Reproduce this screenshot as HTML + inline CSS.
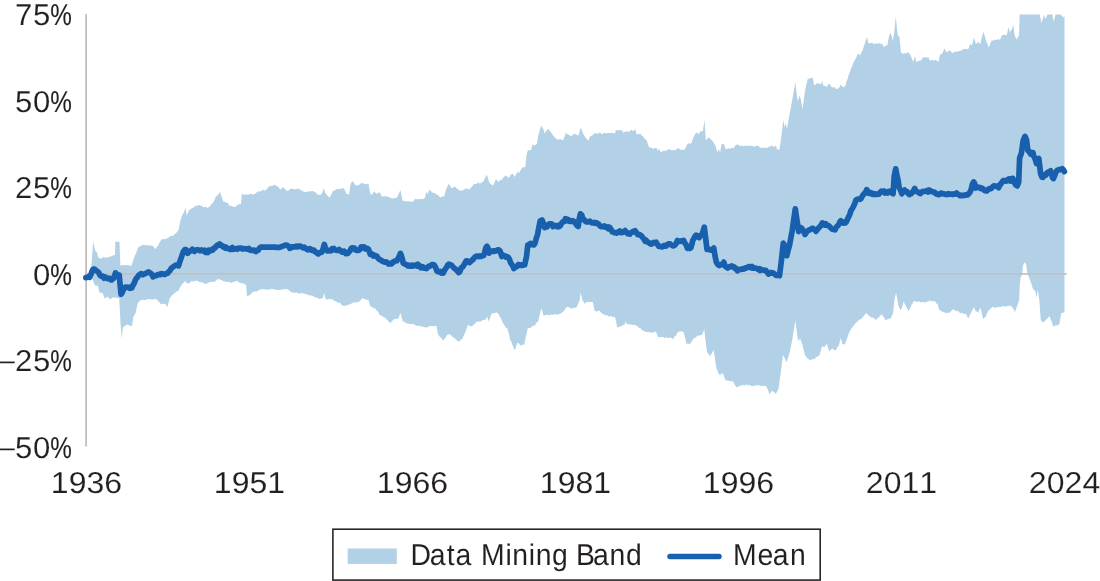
<!DOCTYPE html>
<html lang="en">
<head>
<meta charset="utf-8">
<title>Data Mining Band and Mean</title>
<style>
html,body{margin:0;padding:0;background:#fff;}
body{width:1100px;height:581px;overflow:hidden;position:relative;}
svg{display:block;position:absolute;left:0;top:0;}
text{font-family:"Liberation Sans",sans-serif;fill:#231f20;stroke:#fff;stroke-width:0.12px;paint-order:fill stroke;white-space:pre;text-rendering:geometricPrecision;}
tspan.pc{stroke:#231f20;stroke-width:0.15px;}
text.lg{stroke-width:0.05px;}
</style>
</head>
<body>
<svg width="1100" height="581" viewBox="0 0 1100 581">
<rect x="0" y="0" width="1100" height="581" fill="#ffffff"/>
<g id="plot">
<path id="band" d="M91.4,265.0 93.2,241.8 95.0,250.0 96.0,251.5 96.9,252.2 98.7,258.0 99.7,258.3 100.7,258.3 101.7,258.4 102.7,257.5 103.7,257.0 104.7,257.6 105.7,257.6 106.7,257.9 107.7,257.3 108.7,257.0 109.7,256.5 110.6,257.1 111.6,255.8 112.7,255.7 113.8,255.0 114.9,255.3 115.3,241.8 116.3,241.5 117.4,241.7 118.5,241.9 119.5,241.9 120.4,265.7 121.4,265.6 122.3,264.8 123.3,265.5 124.3,264.9 125.3,265.2 126.2,264.8 127.2,265.3 128.2,265.3 129.4,265.3 130.6,266.0 131.8,264.9 133.6,259.1 134.6,256.3 135.6,253.9 136.6,251.8 138.4,246.9 139.5,246.5 140.6,246.1 141.7,245.2 142.8,245.2 143.9,244.5 144.9,245.6 145.9,245.0 146.9,245.3 147.9,245.2 149.0,245.6 150.0,245.2 151.0,245.8 152.0,245.6 153.0,245.9 154.3,247.7 155.7,249.3 156.8,247.0 158.0,245.4 159.2,243.3 160.3,241.3 162.1,239.1 163.2,239.3 164.3,239.2 165.4,238.9 166.5,238.6 167.6,238.3 168.6,237.5 169.7,236.5 170.7,236.0 171.8,235.9 172.8,235.7 173.9,235.1 174.9,234.0 176.1,233.1 177.3,231.8 178.5,230.1 179.4,225.5 180.4,220.4 181.4,217.6 182.4,214.8 183.5,213.3 184.5,210.4 185.5,207.8 186.8,215.8 188.2,212.1 189.5,209.7 190.5,209.3 191.5,208.5 192.5,208.1 193.5,207.4 194.6,206.4 195.6,206.1 196.6,205.8 197.6,205.7 198.6,204.8 199.6,205.3 200.6,206.1 201.6,205.8 202.6,206.6 203.7,207.2 204.7,207.2 205.7,206.8 206.7,207.3 207.7,208.3 208.8,207.1 209.9,206.6 211.0,204.6 212.1,203.6 213.2,202.6 214.4,200.1 215.7,197.0 216.9,195.8 217.9,195.0 219.0,193.8 220.0,191.8 221.1,195.1 222.1,198.2 223.2,201.6 224.3,201.8 225.5,202.1 226.7,203.1 227.8,202.9 229.6,206.1 230.7,205.8 231.8,205.9 232.9,206.5 234.0,207.1 235.1,206.7 236.1,206.5 237.0,205.1 238.0,204.7 239.0,204.3 239.9,203.9 240.9,203.9 242.0,192.8 243.3,194.9 244.3,194.5 245.3,194.4 246.3,194.5 247.3,194.6 248.3,194.7 249.2,194.2 250.2,194.1 251.2,193.5 252.2,194.5 253.2,194.7 254.2,194.1 255.2,193.7 256.4,192.5 257.6,191.9 258.8,191.1 259.8,191.8 260.9,191.2 261.9,190.5 263.0,189.6 264.0,190.6 265.1,190.4 266.1,189.8 267.3,188.7 268.6,186.5 269.8,186.3 270.9,185.8 271.9,185.9 273.0,185.6 274.1,184.8 275.1,185.3 276.2,185.3 277.1,186.6 278.1,186.6 279.1,187.7 280.0,189.4 281.2,189.0 282.4,187.7 283.6,187.1 284.8,188.9 286.1,190.3 287.3,190.9 288.4,190.4 289.6,189.6 290.8,188.7 291.9,188.6 292.9,189.0 294.0,189.1 295.0,189.6 296.1,189.0 297.1,188.7 298.2,188.5 299.4,189.5 300.7,189.8 301.9,190.7 302.9,191.3 303.9,191.8 304.9,191.9 305.8,192.1 306.8,191.8 307.8,191.4 308.8,191.6 309.8,191.5 310.8,191.2 311.7,190.9 312.7,191.0 313.7,191.6 314.7,192.0 315.9,192.6 317.1,194.3 318.3,194.7 319.5,194.8 320.8,194.7 322.0,193.6 323.8,188.3 325.6,193.6 326.8,194.7 328.1,196.6 329.3,197.5 330.5,195.9 331.7,193.7 332.9,190.7 334.0,191.1 335.1,190.0 336.2,189.3 337.3,188.9 338.4,188.9 339.5,189.0 340.6,189.2 341.7,188.2 342.8,188.3 343.9,188.2 345.2,191.1 346.6,193.9 347.8,193.9 349.0,194.7 350.3,184.7 352.1,180.9 353.5,182.2 354.8,184.5 356.6,185.4 357.7,185.6 358.8,185.1 359.9,184.1 361.0,183.5 362.1,182.8 363.3,183.6 364.6,184.0 365.8,184.6 367.1,183.7 368.5,183.7 370.3,194.1 371.2,194.3 372.2,194.7 374.0,191.6 375.4,192.7 376.7,193.9 377.6,193.1 378.6,192.8 379.5,192.3 380.9,194.4 382.2,196.9 383.4,196.4 384.6,196.1 385.8,196.7 386.9,196.0 388.0,196.8 389.1,197.3 390.2,197.6 391.3,198.4 392.4,198.6 393.5,198.3 394.6,198.0 395.7,197.7 396.8,197.8 398.0,195.5 399.2,192.6 400.4,189.9 401.5,195.1 402.6,200.9 403.6,200.4 404.6,201.3 405.7,201.3 406.7,201.1 407.7,201.4 408.8,201.0 409.9,201.7 411.0,202.0 412.1,201.3 413.2,201.7 415.0,198.7 416.0,199.1 417.1,199.6 418.1,198.8 419.1,199.4 420.1,199.1 421.1,199.0 422.2,199.0 423.2,199.2 424.1,198.0 425.1,198.2 426.0,191.8 427.8,193.9 429.6,189.1 430.5,190.9 431.5,191.6 432.4,192.6 433.6,193.1 434.8,193.1 436.0,194.2 437.1,194.8 438.3,195.3 439.5,196.8 440.6,197.5 441.8,196.5 443.0,196.4 444.2,196.5 445.1,192.7 446.1,189.2 447.5,186.3 448.8,183.8 450.1,185.8 451.5,188.1 452.4,188.2 453.4,187.4 454.3,186.6 455.4,186.9 456.6,188.0 457.7,189.4 458.8,189.8 460.0,190.8 461.3,190.4 462.5,190.6 463.7,189.7 464.9,189.1 466.1,188.5 467.3,188.5 468.6,189.5 469.8,189.0 471.0,187.5 472.2,186.4 473.4,184.5 474.5,184.1 475.7,183.9 476.9,183.7 478.0,182.1 479.0,183.2 480.0,183.4 481.2,183.0 482.4,181.9 483.6,181.1 484.7,179.0 485.7,176.4 486.8,174.7 488.0,178.2 489.1,182.1 490.3,183.7 491.6,184.6 492.8,185.5 493.9,184.1 495.0,181.3 496.1,179.3 497.1,180.6 498.2,182.0 499.4,180.7 500.7,180.0 501.9,179.8 503.1,177.7 504.3,176.4 505.5,175.4 506.7,176.2 508.0,177.2 509.2,177.8 510.3,175.5 511.4,174.2 512.5,173.4 513.6,175.0 514.7,176.9 516.0,174.5 517.4,172.1 519.2,173.0 520.1,171.1 521.1,169.4 522.0,167.6 523.1,167.4 524.2,167.1 525.3,167.3 526.5,154.9 527.8,150.5 528.9,150.3 530.0,150.2 531.1,149.8 532.6,144.2 533.7,145.3 534.7,145.4 535.8,144.8 536.9,143.7 538.4,134.8 539.8,129.9 541.1,125.5 542.3,127.4 543.5,129.5 544.8,133.6 546.0,131.2 547.2,129.4 548.2,129.1 549.3,130.2 550.5,131.5 551.8,133.6 553.0,135.2 554.2,137.0 555.4,137.9 556.6,139.0 557.8,139.7 559.1,139.2 560.3,139.0 561.6,139.8 563.0,140.4 563.9,138.0 564.9,135.9 565.8,132.5 567.1,134.0 568.5,134.8 569.9,135.4 571.2,136.5 572.4,135.3 573.7,134.1 574.9,134.0 576.1,134.5 577.3,135.1 578.5,135.4 579.6,130.9 580.7,127.8 581.9,130.4 583.1,133.5 584.5,135.9 585.8,138.0 586.7,139.0 587.7,139.8 588.6,140.6 590.0,136.5 591.1,136.1 592.2,135.4 593.1,134.7 594.1,133.8 595.0,133.2 596.0,133.2 596.9,133.5 597.9,133.9 598.8,132.4 599.8,133.1 600.7,133.1 601.7,134.1 602.6,133.9 603.6,132.8 604.5,133.2 605.5,133.0 606.4,133.5 607.4,132.9 608.3,133.1 609.3,133.1 610.2,133.1 611.2,132.9 612.1,132.4 613.1,133.1 614.0,133.6 615.0,133.2 615.9,129.9 617.0,130.3 618.0,130.4 619.1,130.1 620.2,130.1 621.2,130.7 622.3,129.9 623.2,133.1 624.2,132.0 625.1,131.8 626.2,131.4 627.4,131.3 628.5,131.4 629.6,132.3 630.5,130.1 631.6,129.9 632.8,130.9 634.0,130.4 635.1,129.8 635.5,128.4 636.2,133.6 637.3,134.7 638.4,133.8 639.5,133.9 640.6,134.0 641.8,135.6 643.0,136.5 644.2,138.3 645.1,138.9 646.1,139.8 647.0,141.3 648.1,144.7 649.3,147.8 650.3,147.6 651.2,147.4 652.2,147.9 653.1,149.0 654.1,148.3 655.1,148.0 656.0,148.0 657.0,148.2 657.9,150.9 659.2,148.4 660.7,152.3 661.9,151.6 663.1,151.1 664.3,150.8 665.4,150.8 666.5,150.5 667.6,149.7 668.7,149.3 669.8,149.6 670.9,149.9 672.0,150.2 673.1,150.2 674.2,150.0 675.3,150.3 676.6,149.0 678.0,148.2 679.0,148.3 680.0,149.6 681.1,150.0 682.3,149.6 683.5,150.1 684.6,149.4 686.0,147.1 687.3,144.2 688.5,143.6 689.7,143.3 690.9,144.0 691.8,141.3 692.8,139.2 693.7,136.8 694.9,134.7 696.1,132.3 697.2,133.0 698.2,133.9 699.1,133.4 700.1,132.1 701.0,130.9 702.8,131.5 704.5,120.1 705.9,140.4 707.0,139.1 708.1,138.0 709.2,137.5 710.4,139.2 711.6,140.1 712.8,141.2 713.7,142.8 714.7,144.4 715.6,146.0 717.4,152.5 718.7,149.1 720.1,152.5 721.6,143.9 722.9,143.8 724.2,144.4 725.3,148.5 726.2,149.2 727.2,149.1 728.1,148.3 729.1,148.6 730.0,148.8 731.0,148.6 731.9,147.6 732.9,148.1 733.8,148.5 734.8,146.1 735.7,145.3 737.0,144.6 738.4,144.8 739.3,146.0 740.3,145.7 741.3,145.6 742.2,146.0 743.2,146.2 744.2,145.9 745.2,146.0 746.1,145.5 747.1,146.1 748.1,145.8 749.1,146.1 750.1,145.7 751.0,145.8 752.0,146.1 753.0,145.9 754.1,146.9 755.2,146.3 756.3,146.0 757.4,145.6 758.5,146.1 759.9,147.4 761.2,148.1 762.3,147.6 763.3,147.7 764.4,148.1 765.5,147.8 766.5,147.5 767.6,147.8 768.8,146.8 770.0,146.4 771.2,145.7 772.4,145.7 773.5,146.7 774.6,146.7 775.8,145.6 777.1,149.5 778.3,149.7 779.5,149.4 781.3,136.8 782.3,128.4 783.3,120.1 784.7,127.4 785.8,123.0 786.9,128.7 788.2,121.9 789.5,114.4 790.9,107.3 792.2,99.9 793.2,94.3 794.3,88.2 795.3,82.1 796.5,92.0 797.7,101.6 799.5,95.7 800.8,99.2 802.6,109.4 803.8,99.6 805.0,91.0 806.4,84.6 807.7,79.1 808.7,78.7 809.6,78.3 810.7,78.0 811.7,77.7 812.8,78.1 814.1,85.4 815.0,85.1 816.0,84.3 816.9,83.2 818.0,83.3 819.1,83.6 820.3,84.2 821.4,83.6 822.3,80.5 823.2,85.5 824.4,85.8 825.7,86.3 826.9,86.9 828.1,84.8 829.3,83.4 830.4,84.9 831.5,87.1 832.9,87.5 834.2,87.1 835.5,88.4 836.9,89.2 837.8,88.3 838.8,88.3 839.8,86.5 840.9,84.4 842.1,86.5 843.3,87.3 844.5,86.5 845.7,84.9 846.7,81.1 847.8,78.6 848.8,74.2 850.0,72.0 851.2,68.3 852.4,65.4 853.3,62.9 854.3,61.0 855.2,59.4 856.5,57.0 857.9,53.2 859.7,55.2 860.6,54.2 861.6,51.9 862.5,50.4 864.3,44.9 865.6,41.2 867.0,37.0 868.3,43.2 869.3,43.3 870.2,42.7 871.2,43.3 872.2,42.8 873.2,43.4 874.1,43.9 875.1,43.8 876.1,43.3 877.1,43.8 878.0,43.6 879.0,43.0 880.0,43.4 881.1,44.1 882.2,43.7 883.6,47.1 884.8,46.6 886.1,45.4 887.3,45.5 889.1,35.7 890.6,32.5 891.7,36.5 892.8,40.7 894.2,33.0 895.7,16.5 897.3,31.2 898.2,36.8 899.3,35.5 901.0,52.8 902.1,53.1 903.2,54.0 904.4,53.1 905.5,53.8 906.4,52.8 907.4,52.7 908.3,52.3 910.1,54.6 911.1,56.7 912.2,59.4 913.2,61.9 915.0,56.3 916.5,62.2 917.6,61.3 918.8,61.3 920.0,60.2 921.1,60.4 922.9,57.2 924.0,57.8 925.1,56.9 926.2,57.8 927.3,57.5 928.4,57.2 929.6,60.2 930.6,60.4 931.6,60.0 932.6,60.1 933.6,60.4 934.6,60.4 935.6,59.7 936.6,60.5 938.4,62.1 939.9,54.8 941.0,54.3 942.0,53.7 943.1,51.7 944.2,48.0 945.4,50.3 946.6,52.2 948.0,51.6 949.3,50.2 950.5,51.0 951.8,52.4 953.0,53.0 954.1,51.9 955.2,51.5 956.3,51.8 957.4,51.5 958.5,51.2 959.6,50.9 960.7,50.4 961.7,50.5 962.8,49.3 963.9,48.8 965.0,48.9 966.2,49.0 967.4,49.0 968.5,48.7 970.3,43.7 971.2,44.9 972.2,44.8 974.0,37.2 975.8,43.8 977.0,43.6 978.2,41.8 979.3,43.3 980.4,44.2 981.8,37.3 983.5,31.8 984.6,35.6 985.8,39.7 986.8,42.4 987.9,45.2 988.9,47.6 990.1,44.1 991.3,41.1 992.2,40.3 993.2,41.1 994.1,39.7 995.1,39.8 996.2,40.1 997.2,39.7 998.3,39.0 999.4,39.7 1000.4,39.1 1001.3,36.7 1002.3,35.1 1003.4,35.0 1004.5,34.7 1005.7,35.0 1006.8,34.9 1008.5,27.2 1009.9,32.4 1010.8,30.6 1011.8,30.1 1013.2,24.8 1014.7,35.8 1015.8,37.7 1016.9,39.6 1018.0,37.0 1019.1,34.9 1019.6,14.6 1020.6,14.6 1021.5,14.6 1022.5,14.6 1023.4,14.6 1024.4,14.6 1025.3,14.6 1026.3,14.6 1027.3,14.6 1028.2,14.6 1029.2,14.6 1030.1,14.6 1031.1,14.6 1032.0,14.6 1033.0,14.6 1034.0,14.6 1034.9,14.6 1035.9,14.6 1036.8,14.6 1037.8,14.6 1038.7,14.6 1039.7,14.6 1041.5,23.0 1042.7,19.3 1043.9,14.6 1045.1,18.9 1046.3,17.2 1047.5,14.6 1048.5,14.6 1049.5,14.6 1050.4,14.6 1051.4,14.6 1052.4,14.6 1053.7,22.0 1055.5,14.6 1056.5,14.6 1057.6,14.6 1058.6,14.6 1059.7,14.6 1060.7,14.6 1062.3,16.3 1063.4,17.3 1064.5,16.4 L1064.5,312.2 1063.4,312.4 1062.3,312.9 1061.2,313.0 1059.4,324.0 1058.4,324.8 1057.3,325.4 1056.3,325.4 1055.3,325.5 1054.2,325.8 1053.2,327.2 1052.2,323.1 1051.2,320.4 1049.5,316.3 1048.5,317.1 1047.4,318.4 1046.4,319.2 1045.4,320.6 1044.3,321.5 1043.3,322.9 1042.0,321.0 1040.8,320.5 1039.4,300.9 1037.9,289.9 1036.5,297.4 1035.4,291.0 1034.2,290.2 1032.9,288.4 1031.7,285.0 1030.5,281.1 1029.5,278.9 1028.6,276.2 1027.2,273.7 1026.3,265.0 1024.7,261.9 1023.0,265.5 1022.2,274.5 1020.6,277.4 1019.7,285.2 1019.2,299.9 1017.8,303.9 1016.9,306.7 1015.9,309.3 1015.0,312.2 1013.8,309.6 1012.6,307.7 1011.4,306.2 1010.3,305.7 1009.3,305.7 1008.2,306.0 1007.1,306.1 1006.1,306.7 1005.0,306.6 1003.9,306.1 1002.9,306.3 1001.8,306.6 1000.7,306.9 999.7,306.7 998.6,307.3 997.5,306.8 996.5,307.7 995.4,307.5 994.3,307.7 993.3,307.1 992.2,307.1 991.0,308.6 989.8,309.2 988.6,310.5 987.7,312.0 986.7,314.1 985.8,316.5 984.5,317.6 983.1,319.3 981.8,313.1 980.4,307.5 979.5,309.4 978.5,312.7 977.1,311.4 975.8,311.5 974.0,307.5 973.1,308.4 972.1,310.5 971.2,312.4 969.9,315.1 968.5,318.3 967.1,316.6 965.8,313.5 964.6,314.0 963.5,314.0 962.4,312.8 961.2,313.2 960.1,313.1 958.9,311.9 957.8,310.8 956.6,311.2 955.4,310.4 954.2,309.9 953.0,309.3 951.8,310.2 950.5,311.7 949.3,312.9 948.2,312.6 947.2,313.0 946.1,313.2 945.1,312.7 944.0,312.1 943.0,312.1 941.8,311.3 940.5,310.5 939.3,310.3 937.5,303.7 936.6,303.8 935.6,302.0 934.7,301.0 933.7,301.3 932.7,301.5 931.6,301.0 930.6,300.8 929.6,300.4 928.6,301.3 927.6,301.5 926.6,301.7 925.6,302.6 924.5,302.4 923.4,301.7 922.3,302.3 921.2,302.4 920.1,301.8 919.0,301.5 918.0,301.8 917.0,301.4 915.9,301.7 914.8,301.0 913.8,301.1 912.9,303.3 911.9,303.9 911.0,306.6 909.6,309.1 908.3,311.3 906.5,306.7 905.6,305.4 904.6,303.7 903.7,301.3 902.4,306.2 901.0,310.3 900.1,308.9 899.1,307.7 898.2,305.2 897.2,298.7 896.1,293.0 894.6,298.3 893.1,312.8 892.0,315.5 890.9,318.4 889.5,318.6 888.2,319.2 886.9,319.4 885.5,320.3 884.3,318.0 883.0,316.2 881.8,314.1 880.0,315.9 879.0,317.2 878.1,317.8 877.2,318.8 876.2,319.8 875.1,319.5 874.1,318.3 873.0,317.8 871.9,317.6 870.9,317.4 869.8,316.3 868.7,315.7 867.6,314.2 866.5,313.1 865.5,313.9 864.5,314.8 863.5,316.5 862.5,317.4 861.4,318.9 860.3,319.3 859.2,320.0 858.1,320.5 857.0,322.1 855.9,322.8 854.8,324.0 853.7,325.7 852.6,326.9 851.5,328.1 850.3,330.4 849.1,332.6 847.9,335.9 847.0,338.9 846.0,341.0 845.1,343.7 843.8,344.6 842.4,343.9 840.9,338.0 839.8,341.8 838.8,345.5 837.6,347.0 836.3,349.2 835.1,350.4 833.8,349.7 832.4,348.3 831.4,349.3 830.3,350.3 829.3,351.3 828.1,348.0 826.9,343.4 825.5,345.8 824.2,347.1 823.1,346.8 822.0,346.4 820.8,350.9 819.6,354.8 818.5,356.2 817.3,356.8 816.1,357.1 815.0,358.9 813.9,358.5 812.8,359.6 811.8,359.2 810.7,359.8 809.6,360.5 808.5,358.7 807.3,358.2 806.1,356.8 805.0,355.2 803.8,350.6 802.6,345.5 801.4,342.0 800.1,338.2 799.2,339.9 798.2,341.1 797.2,334.4 796.3,327.6 795.3,320.4 794.3,327.1 793.2,333.4 792.2,340.1 790.9,346.4 789.5,353.0 788.1,357.6 786.8,362.2 785.8,360.2 784.9,358.5 783.1,354.9 781.9,363.6 780.7,373.1 779.6,380.8 778.5,389.1 777.1,391.4 775.8,394.1 774.6,392.8 773.4,391.7 772.2,390.4 771.3,391.8 770.3,393.3 769.4,393.9 768.0,390.1 766.7,387.0 765.6,386.1 764.6,386.1 763.5,385.6 762.4,386.2 761.4,385.8 760.3,385.7 759.3,385.2 758.2,385.8 757.2,384.9 756.1,385.2 755.1,385.6 754.0,386.2 753.0,385.5 752.0,386.2 751.0,385.7 750.0,385.1 749.0,385.3 748.0,385.3 747.0,384.4 746.0,384.6 745.0,385.2 744.0,385.5 743.0,385.1 742.0,385.2 740.9,385.3 739.8,386.0 738.8,386.4 737.7,386.7 736.6,387.4 735.4,385.8 734.1,383.6 732.9,381.3 731.9,381.3 730.8,381.3 729.8,381.0 728.7,380.8 727.7,380.4 726.6,380.5 725.6,380.2 724.2,376.9 722.9,372.9 721.7,373.7 720.4,374.7 719.2,374.7 717.9,371.8 716.5,368.6 715.1,359.8 713.8,350.0 712.6,352.1 711.3,354.1 710.1,356.2 709.1,354.5 708.0,353.4 707.0,352.0 705.6,340.9 704.3,329.3 703.1,332.2 701.9,335.0 700.8,334.9 699.6,335.3 698.4,336.0 697.3,335.6 696.2,337.3 695.0,337.7 693.9,338.2 692.8,339.6 691.9,340.9 690.9,342.7 690.0,344.0 688.8,343.8 687.6,343.5 686.4,343.8 685.5,339.4 684.5,335.4 683.6,331.9 682.4,331.4 681.2,331.3 680.0,331.8 679.0,331.6 678.1,332.2 677.1,333.3 675.9,335.7 674.6,336.6 673.4,339.2 671.6,338.0 670.6,337.8 669.6,337.6 668.7,338.2 667.7,337.7 666.7,337.3 665.7,337.4 664.8,338.2 663.8,337.3 662.8,336.8 661.8,337.2 660.8,337.1 659.9,336.9 658.9,337.3 657.9,336.8 656.1,332.0 655.0,331.5 653.9,332.4 652.8,332.7 651.7,332.4 650.6,332.2 649.5,332.7 648.4,331.8 647.3,332.3 646.2,331.4 645.1,332.0 644.0,330.7 642.9,330.4 641.7,329.9 640.6,328.3 639.5,328.2 638.4,327.3 637.3,326.0 636.2,325.8 635.1,324.8 634.1,325.0 633.0,324.7 632.0,324.7 631.0,324.4 630.0,324.6 629.0,324.5 627.9,323.9 626.9,324.3 625.6,321.1 625.1,324.3 623.9,324.4 622.6,325.3 621.4,326.6 620.4,326.1 619.3,326.9 618.2,326.9 617.2,327.6 616.1,321.4 615.0,316.9 614.0,316.7 612.9,317.5 611.9,316.2 610.8,316.3 609.8,316.5 608.7,316.4 607.7,315.5 606.6,315.5 605.5,315.0 604.5,314.9 603.4,314.0 602.3,313.7 601.4,313.0 600.4,311.8 599.5,310.8 598.5,310.7 597.5,311.0 596.6,311.7 595.6,311.1 594.6,310.9 592.8,302.0 591.8,301.9 590.8,302.1 589.7,302.3 588.7,301.9 587.7,301.8 586.6,302.1 585.5,302.6 584.4,304.0 583.3,301.3 582.2,299.8 580.7,292.5 579.5,300.8 578.6,302.8 577.6,305.3 576.7,306.9 575.6,308.0 574.5,307.6 573.4,307.9 572.3,308.4 571.2,308.2 570.1,308.3 569.0,307.0 567.8,306.9 566.7,307.1 565.6,308.7 564.4,310.0 563.2,311.6 562.1,312.6 561.1,313.6 560.1,313.4 559.1,313.9 558.1,314.6 557.0,314.4 556.0,314.4 555.0,313.9 554.0,314.8 553.0,314.5 552.0,314.7 551.1,314.3 550.1,315.3 549.2,315.3 548.2,314.8 547.3,315.1 546.4,314.8 545.4,315.3 544.5,315.3 543.5,315.7 542.5,311.8 541.5,308.2 540.5,311.6 539.4,315.8 538.4,320.4 537.2,322.2 535.9,323.3 534.7,326.3 533.7,325.6 532.7,325.8 531.7,327.1 530.8,327.4 529.8,328.0 528.8,328.0 527.8,327.9 526.0,335.9 524.2,344.7 523.0,344.7 521.7,344.8 520.5,345.7 518.7,343.0 517.6,343.0 516.5,344.9 515.0,350.2 513.9,348.2 512.8,345.9 511.4,342.1 510.1,339.7 508.8,333.5 507.4,328.5 506.2,327.7 504.9,325.9 503.7,324.3 502.5,322.3 501.3,319.2 500.1,317.0 499.2,315.6 498.2,313.6 497.3,312.9 496.2,312.3 495.2,313.0 494.1,313.2 493.0,313.2 492.0,313.5 490.9,314.8 489.9,318.5 488.8,321.7 487.3,316.6 485.5,319.5 484.4,319.9 483.3,319.8 482.2,320.5 481.1,321.3 480.0,321.7 479.0,321.8 478.1,321.0 477.1,322.0 476.0,322.0 475.0,323.9 473.9,324.2 472.8,325.8 471.8,326.3 470.7,326.3 469.4,325.7 468.0,324.7 467.1,327.2 466.1,330.0 464.9,333.3 463.7,335.7 462.5,338.5 461.3,339.4 460.0,340.6 458.8,341.9 457.8,340.9 456.7,339.9 455.7,339.2 454.6,338.2 453.6,337.5 452.5,336.9 451.5,335.8 450.3,334.5 449.1,334.3 447.9,334.5 446.8,335.4 445.6,337.7 444.4,339.0 443.3,340.6 442.2,339.7 441.1,337.5 440.0,336.9 438.9,335.5 437.8,334.0 436.6,325.9 435.5,326.2 434.4,325.4 433.3,326.6 432.3,326.0 431.2,326.1 430.2,325.8 429.1,326.5 428.1,327.0 427.0,327.5 426.0,327.2 425.0,327.4 423.9,327.0 422.9,326.7 421.8,326.2 420.8,326.4 419.7,326.1 418.7,325.4 417.7,325.9 416.7,325.5 415.7,325.8 414.7,324.2 413.6,324.5 412.6,324.0 411.6,323.8 410.6,324.1 409.6,324.2 408.6,323.5 407.6,323.7 406.6,323.2 405.6,322.6 404.6,322.3 403.6,321.4 402.6,321.0 401.5,316.7 400.4,312.7 398.6,318.4 397.5,318.6 396.4,319.1 395.2,319.0 394.1,319.0 392.9,320.3 391.6,321.7 390.4,323.2 389.2,322.0 388.1,321.0 386.9,319.5 385.8,318.3 384.8,317.5 383.7,317.4 382.6,316.5 381.6,315.7 380.6,315.0 379.5,315.0 378.4,312.3 377.2,310.8 376.0,309.7 374.9,308.2 373.8,307.9 372.6,307.8 371.4,306.5 370.3,306.6 368.5,300.1 367.4,299.7 366.4,300.0 365.3,299.0 364.2,299.0 363.2,298.5 362.1,298.1 360.9,299.9 359.7,301.2 358.5,301.9 357.4,302.2 356.3,302.2 355.2,302.4 354.1,302.4 353.0,302.6 351.9,303.3 350.7,304.1 349.5,304.7 348.4,304.3 347.3,305.2 346.1,305.6 345.0,306.0 343.9,305.5 342.8,305.9 341.7,305.1 340.6,303.4 339.5,302.6 338.4,302.9 337.4,302.6 336.3,301.4 335.3,301.0 334.2,300.9 333.2,299.7 332.1,299.2 331.1,299.3 330.0,298.8 328.9,299.0 327.8,299.4 326.7,299.2 325.6,299.3 324.2,292.7 322.9,298.2 321.7,298.1 320.4,298.9 319.2,299.1 318.1,298.0 317.1,298.0 316.0,297.0 314.9,297.5 313.9,296.8 312.8,295.6 311.8,295.9 310.8,295.1 309.8,295.4 308.8,295.5 307.8,294.8 306.9,294.0 305.9,294.4 304.9,293.8 303.9,293.5 302.9,293.6 301.9,292.6 300.9,293.4 299.9,293.5 298.9,293.4 297.9,293.1 296.9,292.8 295.9,292.4 294.9,292.7 293.9,292.9 292.9,292.2 291.9,292.6 290.9,291.8 289.7,291.1 288.5,289.7 287.3,289.3 286.3,289.0 285.2,288.9 284.2,289.4 283.1,289.3 282.1,289.5 281.0,289.4 280.0,290.1 279.0,289.7 278.0,289.9 276.9,289.9 275.9,289.8 274.9,289.4 273.9,289.3 272.9,288.9 271.8,289.4 270.8,288.6 269.8,289.4 268.8,289.3 267.8,290.2 266.8,289.1 265.8,289.7 264.8,289.2 263.8,289.2 262.8,289.1 261.8,289.1 260.8,289.8 259.8,289.6 258.8,290.0 257.7,291.0 256.6,291.6 255.6,291.8 254.5,291.1 253.4,291.9 252.5,292.2 251.5,293.2 250.6,294.6 249.4,294.9 248.2,295.9 247.0,296.5 246.1,284.6 244.9,284.6 243.6,283.8 242.4,283.1 241.3,282.9 240.2,282.9 239.1,282.4 238.0,281.8 236.9,280.7 235.8,281.3 234.7,281.7 233.7,282.0 232.6,282.0 231.5,283.1 230.4,282.5 229.3,282.1 228.2,281.8 227.1,282.0 226.0,282.0 224.9,281.3 223.9,281.3 222.8,280.9 221.7,279.9 220.7,279.8 219.6,279.4 218.5,279.1 217.5,279.2 216.4,280.1 215.3,281.2 214.3,281.7 213.2,281.8 212.2,281.8 211.1,282.0 210.1,281.9 209.0,282.6 208.0,282.9 206.9,283.6 205.9,283.4 204.9,284.0 203.8,283.6 202.8,282.3 201.7,282.3 200.7,282.5 199.6,282.0 198.6,281.4 197.6,280.9 196.5,280.5 195.5,281.1 194.4,281.0 193.4,281.4 192.3,281.4 191.3,280.8 190.1,282.8 188.9,283.0 187.7,283.7 186.8,283.1 185.8,282.1 184.9,281.0 183.7,282.7 182.5,283.5 181.3,285.6 180.4,286.8 179.4,288.4 178.5,290.6 177.4,291.7 176.3,291.3 175.3,292.4 174.2,293.4 173.1,294.2 171.9,295.5 170.6,296.9 169.4,298.9 167.6,306.9 165.8,304.4 164.7,303.8 163.5,304.1 162.3,303.8 161.2,304.6 160.0,303.3 158.9,301.4 157.8,300.7 156.6,299.4 155.6,299.1 154.5,298.9 153.5,299.5 152.4,299.6 151.4,299.3 150.3,299.4 149.3,299.2 148.3,298.9 147.3,298.9 146.3,299.8 145.3,300.1 144.2,299.9 143.2,300.0 142.2,299.8 141.2,300.2 140.2,300.4 138.8,302.0 137.5,303.7 135.7,312.9 134.5,314.8 133.3,317.3 132.0,326.7 130.8,325.5 129.7,325.7 128.6,324.9 127.4,324.7 126.3,324.8 125.2,325.8 124.0,326.8 122.9,327.6 121.6,338.7 120.5,322.8 119.2,298.2 118.1,297.7 117.0,298.0 115.8,297.6 114.7,297.4 113.5,297.6 112.4,297.6 111.2,298.5 110.1,299.2 108.8,298.1 107.4,296.6 106.5,297.6 105.5,297.8 104.6,298.6 102.9,293.4 101.7,292.9 100.5,292.6 99.3,292.5 98.0,285.8 97.0,285.7 96.0,285.7 95.0,285.2 93.2,281.0 91.4,277.0Z" fill="#b2d1e6" stroke="none"/>
<line x1="85.3" y1="273.85" x2="1066.7" y2="273.85" stroke="#c0c0c0" stroke-width="1.6"/>
<line x1="86.1" y1="14" x2="86.1" y2="446.6" stroke="#bcbcbc" stroke-width="1.7"/>
<path id="mean" d="M85.8,277.6 86.8,277.5 87.7,277.3 88.6,276.6 89.6,277.2 90.8,274.8 92.0,271.3 93.2,269.0 94.3,269.1 95.4,269.9 96.4,270.8 97.5,271.4 98.7,272.5 99.9,275.1 101.0,276.1 102.0,276.4 103.0,276.2 104.1,278.3 105.1,277.0 106.0,277.8 107.0,277.8 107.9,278.7 108.9,278.6 109.9,278.3 110.9,279.8 111.9,279.8 112.8,278.5 113.8,278.2 115.5,272.9 116.7,274.4 118.0,274.8 119.2,275.1 121.0,294.3 121.9,293.2 122.9,290.8 123.8,288.6 125.2,287.1 126.1,287.3 127.1,287.3 128.0,287.2 129.0,287.7 129.9,288.3 130.9,287.1 131.8,287.9 133.1,284.9 134.4,282.9 135.3,280.2 136.3,278.4 137.2,277.6 138.2,276.0 139.1,274.8 140.1,274.4 141.0,273.6 142.0,274.1 142.9,274.8 143.9,274.0 145.0,273.8 146.2,273.0 147.3,272.5 148.4,271.9 149.6,272.7 150.7,273.4 151.8,274.1 153.0,276.9 154.0,275.8 155.1,275.9 156.1,275.6 157.2,274.8 158.2,274.9 159.3,274.2 160.3,274.7 161.3,273.7 162.4,273.8 163.4,274.0 164.5,274.6 165.5,274.0 166.6,273.3 167.6,273.2 168.8,271.6 170.0,270.6 171.2,268.4 172.4,267.4 173.7,266.5 174.9,265.7 176.1,265.0 177.3,265.3 178.5,265.9 179.7,262.1 181.0,258.3 182.2,254.9 183.6,251.1 184.9,249.7 185.8,249.6 186.8,250.9 187.7,253.2 188.9,251.9 190.1,251.0 191.3,250.5 192.3,249.3 193.4,250.3 194.4,251.4 195.5,250.3 196.5,250.0 197.6,249.7 198.6,250.0 199.6,250.7 200.6,250.6 201.6,250.0 202.6,250.7 203.7,251.0 204.7,250.3 205.7,252.4 206.7,251.8 207.7,252.5 208.7,250.3 209.8,251.0 210.8,249.9 211.9,250.4 212.9,249.9 214.0,247.8 215.0,247.8 216.2,246.4 217.3,245.1 218.4,245.4 219.6,244.0 220.8,245.0 221.9,245.4 223.0,246.9 224.2,246.6 225.2,248.0 226.2,247.2 227.2,248.4 228.2,248.6 229.3,248.8 230.3,249.5 231.3,248.4 232.3,247.6 233.3,249.4 234.3,249.0 235.4,248.7 236.4,248.8 237.4,249.3 238.4,248.1 239.4,248.5 240.5,248.3 241.5,248.1 242.6,249.0 243.6,248.5 244.7,248.7 245.8,248.9 246.8,248.7 247.9,249.3 248.9,248.5 249.9,250.1 250.9,250.3 251.9,250.5 253.0,250.0 254.0,250.0 255.0,251.0 256.0,251.6 257.0,250.4 258.2,250.2 259.5,248.1 260.7,247.1 261.7,247.1 262.6,247.1 263.6,247.1 264.6,247.1 265.5,247.2 266.5,247.2 267.5,247.2 268.4,247.2 269.4,247.2 270.4,247.2 271.3,247.2 272.3,247.2 273.2,247.2 274.2,247.2 275.2,247.2 276.1,247.3 277.1,247.3 278.1,247.3 279.0,247.3 280.0,247.3 281.1,246.6 282.1,246.5 283.2,246.0 284.3,245.4 285.3,245.4 286.4,245.0 287.5,245.6 288.6,246.2 289.8,248.3 290.9,247.2 291.9,247.6 293.0,246.7 294.0,246.9 295.1,247.0 296.1,246.2 297.2,246.9 298.2,246.1 299.2,246.3 300.3,246.1 301.3,246.8 302.4,247.2 303.4,247.9 304.5,247.2 305.5,248.4 306.5,249.0 307.6,249.9 308.6,249.2 309.7,248.6 310.7,249.1 311.8,250.4 312.8,250.3 313.9,250.2 315.0,251.7 316.1,252.1 317.2,253.3 318.3,253.9 319.4,252.8 320.5,252.5 321.6,252.2 323.0,249.2 324.3,244.4 325.2,247.2 326.2,249.3 327.1,250.9 328.1,250.8 329.0,250.5 330.0,250.4 331.0,250.8 331.9,248.8 332.9,249.5 333.9,248.5 335.0,249.9 336.0,250.2 337.1,250.4 338.1,250.4 339.2,249.5 340.2,251.0 341.2,250.8 342.1,252.0 343.1,251.4 344.0,251.2 345.0,252.7 346.0,253.7 346.9,253.6 347.9,253.3 348.9,251.9 350.0,250.9 351.1,248.6 352.1,247.8 353.2,248.2 354.4,248.1 355.5,249.9 356.6,250.4 357.7,250.2 358.8,250.5 359.9,249.5 361.0,247.1 362.1,246.8 363.2,247.9 364.2,247.1 365.3,248.9 366.4,248.5 367.4,248.4 368.5,249.3 370.3,254.4 371.4,253.6 372.4,254.3 373.5,256.1 374.6,255.3 375.6,256.1 376.7,256.0 377.8,257.9 378.8,258.8 379.9,259.8 381.0,260.0 382.0,260.9 383.1,261.5 384.2,262.1 385.2,262.0 386.3,261.9 387.4,262.5 388.4,264.0 389.5,263.7 390.5,264.0 391.6,263.9 392.6,262.0 393.7,261.9 394.7,261.1 395.8,261.0 396.8,260.8 398.0,258.7 399.2,256.3 400.4,253.4 401.3,255.6 402.3,258.9 403.2,263.1 404.3,263.6 405.3,264.2 406.4,264.6 407.5,265.7 408.5,265.1 409.6,266.1 410.6,266.2 411.6,265.2 412.6,266.1 413.6,265.8 414.7,265.1 415.7,265.3 416.7,266.0 417.7,264.3 418.7,265.1 419.8,266.5 420.8,267.8 421.9,266.5 423.0,266.7 424.0,268.2 425.1,268.0 426.2,268.6 427.4,267.8 428.5,266.4 429.6,266.2 430.8,265.5 431.9,264.6 433.1,264.5 434.2,265.1 435.5,267.1 436.9,271.2 438.0,271.7 439.0,271.8 440.1,271.4 441.2,273.0 442.2,272.4 443.3,273.0 444.4,270.4 445.6,268.6 446.8,267.0 447.9,264.7 449.1,264.1 450.3,264.9 451.5,265.1 452.5,266.5 453.6,267.6 454.6,268.7 455.7,269.2 456.7,270.3 457.8,271.4 458.8,272.6 460.0,271.2 461.3,267.8 462.5,267.1 463.7,265.3 464.9,263.3 466.1,260.9 467.2,260.9 468.4,262.0 469.6,262.5 470.7,261.4 471.8,260.3 472.9,259.9 474.0,258.0 475.1,256.9 476.2,256.2 477.1,256.0 478.1,256.5 479.1,256.7 480.0,255.9 481.2,256.4 482.4,255.6 483.6,255.6 484.7,252.3 485.8,248.0 486.9,246.2 488.0,248.1 489.1,253.1 490.1,252.0 491.2,251.8 492.2,251.0 493.3,250.9 494.3,251.3 495.4,250.9 496.4,250.8 497.6,249.9 498.9,249.9 500.1,251.1 501.9,256.5 503.0,255.0 504.0,255.7 505.1,256.0 506.2,257.2 507.2,256.7 508.3,257.4 509.5,259.5 510.7,262.9 511.9,264.6 512.8,265.8 513.8,268.5 514.7,267.8 515.9,266.3 517.1,266.7 518.3,264.6 519.4,265.2 520.4,264.9 521.5,265.5 522.6,264.7 523.6,265.1 524.7,264.8 526.5,256.5 527.8,245.0 528.8,244.8 529.8,243.9 530.8,243.5 531.7,244.7 532.7,244.4 533.7,244.9 534.7,243.9 535.6,241.1 536.6,237.3 537.5,234.6 538.9,227.2 540.2,220.9 542.0,219.9 542.9,221.9 543.9,225.9 544.8,227.5 545.9,226.4 547.0,226.8 548.1,224.8 549.2,223.8 550.3,224.0 551.6,223.9 553.0,226.6 554.1,225.4 555.1,225.5 556.2,225.6 557.3,226.7 558.3,225.5 559.4,226.5 560.4,225.6 561.4,223.6 562.4,222.1 563.4,221.5 564.4,221.4 565.4,218.7 566.4,220.7 567.4,219.4 568.4,219.5 569.4,221.3 570.5,221.0 571.6,221.6 572.7,220.6 573.8,221.3 574.9,222.1 576.0,224.0 577.1,225.7 578.2,226.4 579.3,218.7 580.4,213.9 581.8,215.2 583.1,219.6 584.2,219.6 585.4,221.3 586.6,222.0 587.7,222.0 588.8,221.5 589.9,221.2 590.9,222.4 592.0,222.8 593.1,222.8 594.2,222.3 595.3,223.3 596.4,222.7 597.5,223.5 598.6,224.1 599.8,225.7 600.9,226.6 602.1,226.6 603.2,226.7 604.3,225.9 605.3,227.1 606.4,227.5 607.5,227.0 608.5,228.7 609.6,227.2 611.0,229.4 612.3,231.8 613.4,232.1 614.4,232.7 615.5,232.6 616.6,233.0 617.6,232.0 618.7,232.3 619.8,231.0 620.8,232.4 621.9,232.6 623.0,232.2 624.0,231.6 625.1,230.6 626.5,232.4 627.8,233.8 628.8,233.2 629.9,234.1 630.9,232.8 632.0,232.2 633.0,231.4 634.1,231.8 635.1,230.8 636.5,232.7 637.8,234.7 638.9,234.5 640.1,235.0 641.2,235.7 642.4,237.1 643.8,238.8 645.1,241.2 646.2,240.3 647.2,241.8 648.3,242.3 649.4,243.0 650.4,244.0 651.5,244.1 652.6,243.1 653.8,242.3 655.0,242.9 656.1,242.3 657.5,244.6 658.8,246.4 659.9,246.4 661.0,246.6 662.1,246.9 663.2,246.4 664.3,245.4 665.3,246.1 666.3,245.9 667.3,244.7 668.3,243.9 669.3,243.8 670.3,244.1 671.3,245.0 672.3,245.5 673.3,245.9 674.3,245.4 675.3,244.6 676.3,243.1 677.4,240.5 678.7,241.2 680.0,241.3 681.2,240.9 682.4,241.3 683.6,240.4 684.8,243.0 686.1,244.7 687.3,248.2 688.5,247.6 689.7,248.5 690.9,247.6 691.8,244.5 692.8,240.4 693.7,238.8 694.9,236.5 696.1,235.2 697.1,236.9 698.2,236.6 699.2,237.7 700.5,235.4 701.9,235.1 703.1,231.0 704.3,227.1 705.6,237.8 707.0,249.3 708.0,248.7 709.1,249.4 710.1,250.0 711.3,250.1 712.6,249.3 713.8,248.1 715.1,256.5 716.5,262.5 717.9,264.6 719.2,265.6 720.4,264.6 721.5,264.7 722.6,264.2 723.8,262.1 725.1,266.1 726.5,267.2 727.6,268.0 728.6,267.0 729.7,266.5 730.8,266.8 731.8,265.9 732.9,266.9 734.0,266.9 735.2,268.6 736.4,268.3 737.5,270.8 738.5,269.8 739.5,269.7 740.6,269.4 741.6,269.0 742.6,268.8 743.7,269.2 744.7,268.0 745.7,268.1 746.7,267.6 747.8,267.4 748.8,266.6 749.9,266.9 750.9,267.7 752.0,266.6 753.0,268.2 754.0,268.2 755.1,268.1 756.1,268.2 757.2,268.8 758.2,269.5 759.3,268.7 760.3,270.5 761.4,269.5 762.5,270.0 763.6,270.1 764.7,270.4 765.8,270.4 767.1,272.2 768.5,274.1 769.6,273.4 770.8,272.5 772.0,273.1 773.1,272.8 774.5,274.0 775.8,275.2 777.0,275.5 778.3,275.2 779.5,275.7 781.3,261.4 782.3,252.2 783.3,243.2 784.9,245.8 785.8,250.0 786.8,255.8 788.1,250.3 789.5,245.5 790.9,237.5 792.2,230.7 793.2,223.3 794.3,215.6 795.3,208.8 796.4,216.4 797.5,223.7 798.6,231.7 799.7,230.1 800.8,227.5 801.8,228.4 802.9,230.2 804.0,232.2 805.0,234.5 806.1,232.8 807.3,231.1 808.5,230.3 809.6,229.7 810.7,229.6 811.9,228.4 813.0,228.4 814.1,229.4 815.0,229.5 816.0,231.2 817.4,229.4 818.7,227.8 819.9,226.7 821.1,225.2 822.3,222.9 823.4,223.9 824.6,225.0 825.8,223.8 826.9,225.4 828.0,225.3 829.2,226.1 830.4,227.5 831.5,228.6 832.7,229.4 833.9,229.3 835.1,229.8 836.3,227.0 837.6,225.8 838.8,224.4 839.8,222.0 840.9,220.8 842.1,221.6 843.3,223.1 844.2,223.0 845.2,223.0 846.1,222.2 847.3,219.6 848.5,217.1 849.7,214.7 850.9,210.6 852.2,208.8 853.4,206.5 854.8,203.5 856.1,199.8 857.3,199.3 858.5,199.0 859.7,199.4 860.9,198.9 862.2,196.1 863.4,194.7 864.5,193.4 865.6,192.4 866.7,189.6 867.8,191.3 868.9,193.4 870.0,193.4 871.1,192.8 872.3,194.3 873.4,194.4 874.5,193.6 875.7,194.5 876.9,194.4 878.0,194.1 879.0,194.1 880.0,192.7 881.4,191.1 882.7,191.8 883.9,191.1 885.0,192.9 886.1,192.1 887.3,193.0 888.5,191.4 889.7,192.2 890.9,191.1 892.0,193.1 893.1,193.7 894.2,176.4 895.7,168.8 897.3,177.0 898.2,181.0 899.2,187.9 900.5,190.1 901.9,193.8 903.2,191.2 904.6,190.0 905.8,191.7 907.1,191.7 908.3,193.5 909.3,194.6 910.4,193.8 911.4,193.6 912.5,192.2 913.6,190.5 914.7,188.4 915.9,191.1 917.1,191.7 918.3,192.1 919.4,193.1 920.5,193.6 921.6,192.1 922.7,191.4 923.8,191.5 924.9,191.3 926.0,191.4 927.1,190.5 928.2,191.9 929.3,190.1 930.4,190.8 931.5,191.3 932.7,192.0 933.8,192.0 934.8,192.2 935.9,193.7 936.9,194.0 937.9,194.4 938.9,194.7 940.0,194.1 941.0,193.1 942.0,193.4 943.0,193.8 944.1,193.8 945.1,194.3 946.2,194.3 947.2,194.6 948.3,193.6 949.3,194.0 950.3,194.2 951.4,194.0 952.4,194.5 953.5,193.8 954.5,194.2 955.6,194.0 956.6,193.1 957.8,194.3 958.9,194.9 960.1,195.7 961.2,195.1 962.2,195.7 963.3,195.5 964.3,195.1 965.4,195.3 966.4,194.5 967.5,194.8 968.5,194.1 969.9,192.2 971.2,189.5 972.4,184.2 973.6,181.9 974.7,183.6 975.8,188.1 976.9,187.2 978.1,187.2 979.2,187.4 980.4,188.5 981.5,187.9 982.6,188.5 983.6,189.8 984.7,190.5 985.8,191.0 986.9,190.9 988.0,189.5 989.1,188.6 990.2,189.0 991.3,188.5 992.5,187.0 993.8,185.9 995.0,186.1 996.2,186.1 997.4,186.5 998.6,187.7 999.8,185.0 1000.9,183.8 1002.1,182.0 1003.2,180.7 1004.5,180.6 1005.9,181.2 1007.2,180.1 1008.6,179.0 1009.5,180.4 1010.5,181.1 1011.6,178.5 1012.8,178.3 1013.9,181.5 1015.0,183.7 1016.1,185.2 1017.2,185.9 1018.7,182.0 1019.6,158.0 1021.4,153.2 1023.2,140.5 1025.0,136.4 1026.5,139.6 1027.8,150.3 1029.2,151.6 1030.5,153.9 1031.7,152.5 1032.9,152.6 1034.0,156.7 1035.1,158.9 1036.6,163.6 1037.7,161.1 1038.8,158.4 1040.6,173.7 1042.0,177.2 1043.0,177.3 1044.0,174.9 1045.1,174.3 1046.1,174.9 1047.2,172.7 1048.3,172.1 1049.5,171.9 1050.6,170.8 1051.5,173.2 1052.5,177.6 1053.4,178.6 1054.5,176.1 1055.5,173.3 1056.6,171.1 1057.6,170.1 1058.7,169.7 1059.7,169.6 1061.0,169.6 1062.3,168.7 1063.3,169.7 1064.4,171.6" fill="none" stroke="#185fad" stroke-width="5.7" stroke-linejoin="round" stroke-linecap="round"/>
</g>
<g id="yaxis" font-size="30.2">
<text class="yl" transform="scale(1.03,1)" x="14.66 31.99" y="25.25">75<tspan class="pc" x="48.74" textLength="20.97" lengthAdjust="spacingAndGlyphs">%</tspan></text>
<text class="yl" transform="scale(1.03,1)" x="14.66 31.99" y="111.73">50<tspan class="pc" x="48.74" textLength="20.97" lengthAdjust="spacingAndGlyphs">%</tspan></text>
<text class="yl" transform="scale(1.03,1)" x="14.66 31.99" y="198.21">25<tspan class="pc" x="48.74" textLength="20.97" lengthAdjust="spacingAndGlyphs">%</tspan></text>
<text class="yl" transform="scale(1.03,1)" x="31.99" y="284.69">0<tspan class="pc" x="48.74" textLength="20.97" lengthAdjust="spacingAndGlyphs">%</tspan></text>
<text class="yl" transform="scale(1.03,1)" x="-2.52 14.66 31.99" y="371.17" dy="-1.1 1.1">–25<tspan class="pc" x="48.74" textLength="20.97" lengthAdjust="spacingAndGlyphs">%</tspan></text>
<text class="yl" transform="scale(1.03,1)" x="-2.52 14.66 31.99" y="457.65" dy="-1.1 1.1">–50<tspan class="pc" x="48.74" textLength="20.97" lengthAdjust="spacingAndGlyphs">%</tspan></text>
</g>
<g id="xaxis" font-size="30.2">
<text class="xl" transform="scale(1.06,1)" x="47.95 64.79 81.62 98.46" y="492.9">1936</text>
<text class="xl" transform="scale(1.06,1)" x="201.72 218.56 235.40 252.24" y="492.9">1951</text>
<text class="xl" transform="scale(1.06,1)" x="355.49 372.33 389.17 406.01" y="492.9">1966</text>
<text class="xl" transform="scale(1.06,1)" x="509.27 526.11 542.95 559.79" y="492.9">1981</text>
<text class="xl" transform="scale(1.06,1)" x="663.04 679.88 696.72 713.56" y="492.9">1996</text>
<text class="xl" transform="scale(1.06,1)" x="816.81 833.65 850.49 867.33" y="492.9">2011</text>
<text class="xl" transform="scale(1.06,1)" x="970.59 987.43 1004.27 1021.11" y="492.9">2024</text>
</g>
<g id="legend" font-size="30.2">
<rect x="332.9" y="529.2" width="487.3" height="50.9" fill="#ffffff" stroke="#231f20" stroke-width="1.55"/>
<rect x="347.7" y="548.5" width="49.1" height="15.4" fill="#b2d1e6"/>
<text class="lg" transform="scale(0.94,1)" x="436.77 457.18 475.31 484.47 501.27 511.78 537.88 544.98 562.61 569.88 587.15 603.95 612.78 630.96 648.49 666.04" y="565.1">Data Mining Band</text>
<line x1="670.0" y1="556.4" x2="719" y2="556.4" stroke="#185fad" stroke-width="5.5" stroke-linecap="round"/>
<text class="lg" transform="scale(0.94,1)" x="779.87 805.73 822.13 840.30" y="565.1">Mean</text>
</g>
</svg>
</body>
</html>
